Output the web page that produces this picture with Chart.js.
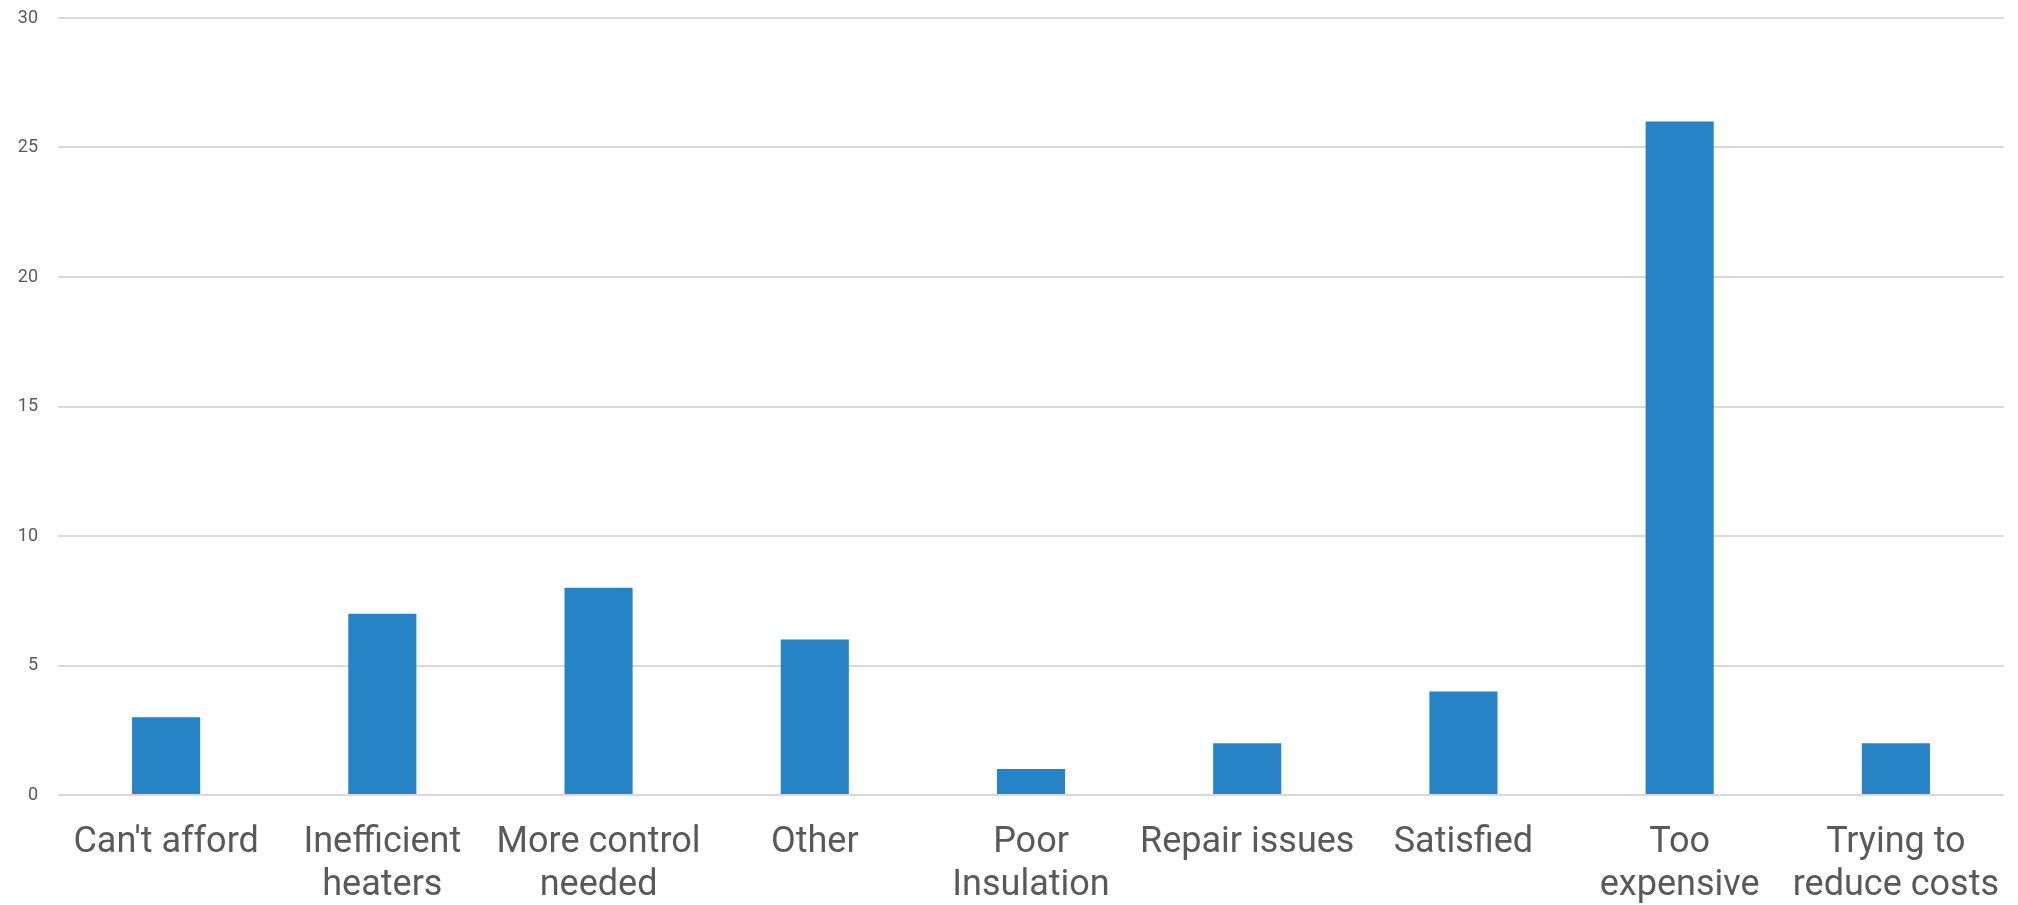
<!DOCTYPE html>
<html>
<head>
<meta charset="utf-8">
<script src="https://cdn.jsdelivr.net/npm/chart.js@4"></script>
<style>
  html, body { margin: 0; padding: 0; background: #fff; }
  #wrap { width: 2018px; height: 905px; }
</style>
</head>
<body>
<div id="wrap"><canvas id="chart"></canvas></div>
<script>
const categories = [
  "Can't afford",
  ['Inefficient', 'heaters'],
  ['More control', 'needed'],
  'Other',
  ['Poor', 'Insulation'],
  'Repair issues',
  'Satisfied',
  ['Too', 'expensive'],
  ['Trying to', 'reduce costs']
];
const counts = [3, 7, 8, 6, 1, 2, 4, 26, 2];
const yTicks = [0, 5, 10, 15, 20, 25, 30];

const labelGrey = '#595959';

new Chart(document.getElementById('chart'), {
  type: 'bar',
  data: {
    labels: categories,
    datasets: [{
      label: 'Count',
      data: counts,
      backgroundColor: '#2683C6',
      borderWidth: 0,
      categoryPercentage: 1,
      barPercentage: 0.315
    }]
  },
  options: {
    responsive: true,
    maintainAspectRatio: false,
    animation: false,
    layout: { padding: { top: 18, right: 14, bottom: 0, left: 0 } },
    plugins: {
      legend: { display: false },
      tooltip: { enabled: false }
    },
    scales: {
      x: {
        grid: { display: false, drawTicks: false },
        border: { display: false },
        ticks: {
          color: labelGrey,
          padding: 27,
          maxRotation: 0,
          autoSkip: false,
          font: { family: "'Roboto', sans-serif", size: 36, lineHeight: 1.18 }
        },
        afterFit: (scale) => {
          scale.height = 110;
          scale.paddingLeft = 0;
          scale.paddingRight = 0;
        }
      },
      y: {
        min: 0,
        max: 30,
        afterBuildTicks: (scale) => { scale.ticks = yTicks.map(v => ({ value: v })); },
        grid: { color: '#d9d9d9', lineWidth: 2, drawTicks: false },
        border: { display: false },
        ticks: {
          color: labelGrey,
          padding: 20,
          font: { family: "'Roboto', sans-serif", size: 18 }
        },
        afterFit: (scale) => {
          scale.width = 58;
          scale.paddingTop = 0;
          scale.paddingBottom = 0;
        }
      }
    }
  }
});
</script>
</body>
</html>
